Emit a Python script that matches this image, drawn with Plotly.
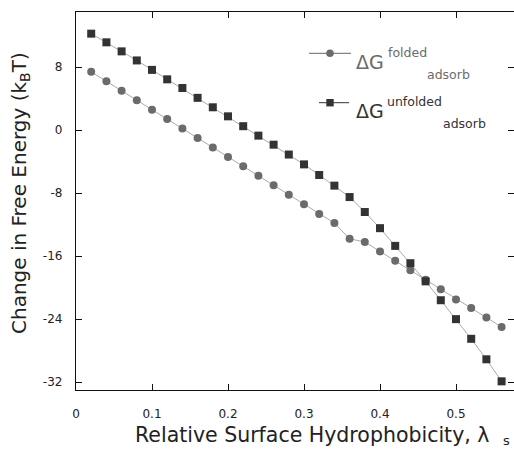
import plotly.graph_objects as go

# ---- data ----
lam = [0.02, 0.04, 0.06, 0.08, 0.10, 0.12, 0.14, 0.16, 0.18, 0.20, 0.22, 0.24, 0.26, 0.28,
       0.30, 0.32, 0.34, 0.36, 0.38, 0.40, 0.42, 0.44, 0.46, 0.48, 0.50, 0.52, 0.54, 0.56]
dg_folded = [7.4, 6.2, 5.0, 3.8, 2.6, 1.4, 0.2, -1.0, -2.2, -3.4, -4.6, -5.8, -7.0, -8.2,
             -9.4, -10.65, -11.8, -13.8, -14.2, -15.4, -16.6, -17.8, -19.0, -20.2, -21.5, -22.6, -23.8, -25.0]
dg_unfolded = [12.25, 11.15, 10.0, 8.85, 7.65, 6.45, 5.35, 4.1, 2.9, 1.75, 0.5, -0.7, -1.85, -3.1,
               -4.35, -5.7, -7.05, -8.5, -10.4, -12.45, -14.7, -16.9, -19.2, -21.6, -24.0, -26.5, -29.1, -31.9]
x_ticks = [0, 0.1, 0.2, 0.3, 0.4, 0.5]
x_ticklabels = ["0", "0.1", "0.2", "0.3", "0.4", "0.5"]
y_ticks = [-32, -24, -16, -8, 0, 8]
y_ticklabels = ["-32", "-24", "-16", "-8", "0", "8"]

W, H = 514, 449
ML, MR, MT, MB = 76, 0, 12, 59
PW, PH = W - ML - MR, H - MT - MB
FONT = "DejaVu Sans, Arial, sans-serif"

def pxx(p):  # pixel x -> paper
    return (p - ML) / PW

def pxy(p):  # pixel y -> paper
    return (H - MB - p) / PH

fig = go.Figure()
fig.add_trace(go.Scatter(x=lam, y=dg_folded, mode="lines+markers",
                         line=dict(color="#aaaaaa", width=1),
                         marker=dict(symbol="circle", size=8, color="#6b6b6b"),
                         showlegend=False))
fig.add_trace(go.Scatter(x=lam, y=dg_unfolded, mode="lines+markers",
                         line=dict(color="#aaaaaa", width=1),
                         marker=dict(symbol="square", size=8, color="#333333"),
                         showlegend=False))

shapes = []
# legend samples
shapes.append(dict(type="line", xref="paper", yref="paper", x0=pxx(309), x1=pxx(351),
                   y0=pxy(53.3), y1=pxy(53.3), line=dict(color="#666666", width=1)))
r = 3.8
shapes.append(dict(type="circle", xref="paper", yref="paper", x0=pxx(330 - r), x1=pxx(330 + r),
                   y0=pxy(53.3 + r), y1=pxy(53.3 - r), fillcolor="#6b6b6b", line=dict(width=0)))
shapes.append(dict(type="line", xref="paper", yref="paper", x0=pxx(319), x1=pxx(349),
                   y0=pxy(102.7), y1=pxy(102.7), line=dict(color="#333333", width=1)))
s = 3.7
shapes.append(dict(type="rect", xref="paper", yref="paper", x0=pxx(330 - s), x1=pxx(330 + s),
                   y0=pxy(102.7 + s), y1=pxy(102.7 - s), fillcolor="#333333", line=dict(width=0)))

annotations = []
def ann(text, x, y, size, color="#222222", anchor="left", textangle=0):
    annotations.append(dict(text=text, xref="paper", yref="paper", x=pxx(x), y=pxy(y),
                            xanchor=anchor, yanchor="middle", showarrow=False,
                            borderpad=0, textangle=textangle,
                            font=dict(family=FONT, size=size, color=color)))

# legend texts
ann("ΔG", 355, 61.6, 19, "#6b6b6b")
ann("folded", 386.5, 52.7, 12.5, "#6b6b6b")
ann("adsorb", 426, 74.8, 12.5, "#6b6b6b")
ann("ΔG", 355, 110.6, 19, "#333333")
ann("unfolded", 386, 101.5, 12.5, "#333333")
ann("adsorb", 442, 123.8, 12.5, "#333333")

# axis titles
ann("Relative Surface Hydrophobicity, λ", 134, 435, 20.5, anchor="left")
ann("s", 502, 440, 13)
ann("Change in Free Energy (k<sub>B</sub>T)", 20, 193, 20, anchor="center", textangle=-90)

fig.update_layout(
    width=W, height=H,
    margin=dict(l=ML, r=MR, t=MT, b=MB, pad=0),
    paper_bgcolor="white", plot_bgcolor="white",
    font=dict(family=FONT, size=12, color="#222222"),
    shapes=shapes, annotations=annotations,
    xaxis=dict(range=[0, PW / 760.0], tickvals=x_ticks, ticktext=x_ticklabels,
               ticks="inside", ticklen=6, tickwidth=1, tickcolor="#111111",
               showline=True, linecolor="#111111", linewidth=1.3, mirror="ticks",
               showgrid=False, zeroline=False, ticklabelstandoff=12,
               tickfont=dict(size=12, color="#222222")),
    yaxis=dict(range=[-33, 15], tickvals=y_ticks, ticktext=y_ticklabels,
               ticks="inside", ticklen=6, tickwidth=1, tickcolor="#111111",
               showline=True, linecolor="#111111", linewidth=1.3, mirror="ticks",
               showgrid=False, zeroline=False, ticklabelstandoff=10,
               tickfont=dict(size=12, color="#222222")),
)

fig.write_html("out.html")
